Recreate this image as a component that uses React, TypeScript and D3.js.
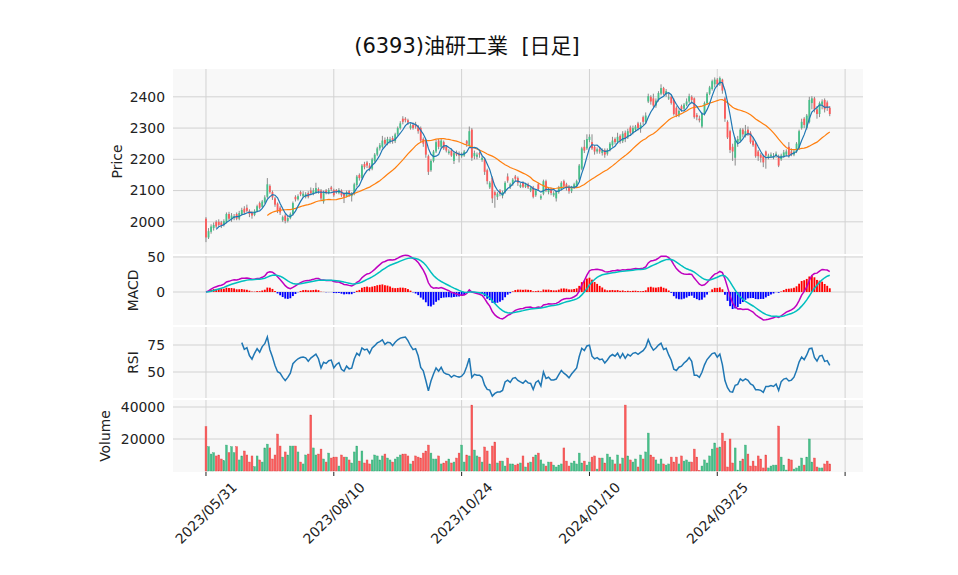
import * as d3 from "d3";

const W = 958;
const H = 575;
const LEFT = 173;
const RIGHT = 863;

const TITLE = "(6393)油研工業  [日足]";

// daily candles (yen)
const opens = [
  2010, 1950, 1968, 1980, 2000, 2000, 1998, 1990, 2000, 2025, 2008, 2012, 2025, 2010, 2025, 2042, 2045, 2035, 2030, 2022,
  2035, 2060, 2048, 2062, 2080, 2115, 2095, 2075, 2058, 2045, 2005, 2020, 2003, 2012, 2025, 2080, 2072, 2095, 2082, 2080,
  2092, 2100, 2090, 2095, 2105, 2100, 2065, 2100, 2092, 2110, 2102, 2102, 2092, 2100, 2090, 2082, 2098, 2082, 2090, 2118,
  2150, 2140, 2185, 2190, 2180, 2170, 2195, 2215, 2235, 2240, 2262, 2250, 2258, 2268, 2258, 2280, 2300, 2330, 2330, 2325,
  2300, 2310, 2312, 2305, 2300, 2265, 2260, 2210, 2165, 2195, 2225, 2260, 2240, 2255, 2240, 2220, 2228, 2195, 2222, 2218,
  2210, 2212, 2258, 2245, 2295, 2210, 2208, 2220, 2198, 2200, 2165, 2110, 2140, 2095, 2080, 2100, 2083, 2095, 2145, 2112,
  2120, 2145, 2140, 2112, 2125, 2112, 2120, 2100, 2110, 2085, 2120, 2075, 2090, 2130, 2095, 2105, 2085, 2075, 2095, 2105,
  2130, 2120, 2112, 2098, 2110, 2115, 2135, 2170, 2240, 2235, 2262, 2255, 2240, 2225, 2232, 2220, 2230, 2218, 2230, 2245,
  2265, 2255, 2275, 2258, 2285, 2270, 2302, 2285, 2295, 2315, 2298, 2335, 2320, 2385, 2400, 2395, 2372, 2390, 2410, 2428,
  2408, 2395, 2400, 2390, 2365, 2340, 2370, 2362, 2375, 2385, 2400, 2395, 2342, 2330, 2305, 2345, 2380, 2410, 2425, 2440,
  2455, 2440, 2455, 2395, 2320, 2290, 2240, 2205, 2255, 2260, 2295, 2275, 2295, 2285, 2260, 2250, 2225, 2215, 2210, 2225,
  2205, 2210, 2205, 2210, 2210, 2200, 2210, 2215, 2240, 2225, 2215, 2225, 2235, 2300, 2330, 2300, 2320, 2380, 2395, 2360,
  2345, 2375, 2390, 2382, 2365,
];
const highs = [
  2015, 1980, 1992, 1998, 2005, 2008, 2003, 2008, 2030, 2032, 2028, 2025, 2030, 2035, 2045, 2050, 2055, 2040, 2035, 2040,
  2055, 2065, 2070, 2085, 2140, 2120, 2100, 2080, 2062, 2050, 2020, 2025, 2020, 2030, 2065, 2085, 2088, 2100, 2098, 2095,
  2098, 2110, 2108, 2125, 2110, 2105, 2100, 2105, 2108, 2115, 2106, 2105, 2108, 2104, 2095, 2100, 2102, 2095, 2125, 2150,
  2155, 2185, 2192, 2195, 2188, 2205, 2220, 2240, 2252, 2275, 2270, 2272, 2272, 2275, 2285, 2305, 2322, 2338, 2335, 2330,
  2315, 2318, 2320, 2310, 2305, 2270, 2265, 2215, 2200, 2230, 2262, 2265, 2265, 2260, 2245, 2232, 2235, 2225, 2228, 2225,
  2222, 2230, 2262, 2305, 2300, 2228, 2222, 2225, 2212, 2205, 2170, 2130, 2145, 2100, 2095, 2105, 2100, 2130, 2155, 2125,
  2140, 2150, 2145, 2124, 2130, 2125, 2125, 2112, 2115, 2105, 2125, 2088, 2135, 2135, 2110, 2110, 2098, 2100, 2115, 2130,
  2135, 2125, 2118, 2115, 2125, 2135, 2185, 2240, 2262, 2280, 2280, 2280, 2245, 2238, 2238, 2235, 2235, 2235, 2255, 2272,
  2270, 2285, 2280, 2290, 2292, 2298, 2308, 2308, 2310, 2320, 2318, 2340, 2350, 2410, 2405, 2410, 2395, 2418, 2440, 2432,
  2425, 2412, 2405, 2395, 2370, 2360, 2375, 2380, 2395, 2410, 2405, 2398, 2348, 2340, 2350, 2385, 2415, 2435, 2455, 2462,
  2460, 2465, 2458, 2400, 2325, 2295, 2250, 2270, 2275, 2300, 2300, 2310, 2305, 2290, 2270, 2255, 2230, 2220, 2215, 2228,
  2218, 2222, 2220, 2225, 2215, 2218, 2230, 2232, 2255, 2235, 2232, 2255, 2295, 2330, 2335, 2345, 2400, 2402, 2400, 2370,
  2385, 2392, 2395, 2388, 2370,
];
const lows = [
  1935, 1945, 1962, 1972, 1980, 1985, 1980, 1985, 1995, 2005, 2000, 2005, 2005, 2005, 2020, 2025, 2030, 2015, 2010, 2018,
  2030, 2040, 2045, 2058, 2075, 2090, 2070, 2048, 2028, 2022, 2000, 1995, 1998, 2008, 2020, 2065, 2068, 2082, 2078, 2075,
  2075, 2085, 2085, 2090, 2090, 2068, 2058, 2088, 2088, 2098, 2080, 2090, 2088, 2080, 2060, 2078, 2080, 2065, 2085, 2112,
  2132, 2135, 2168, 2172, 2162, 2165, 2190, 2210, 2228, 2235, 2245, 2245, 2250, 2250, 2252, 2275, 2295, 2312, 2318, 2310,
  2295, 2295, 2298, 2282, 2255, 2240, 2205, 2150, 2160, 2190, 2220, 2232, 2235, 2230, 2222, 2215, 2208, 2185, 2210, 2190,
  2205, 2208, 2240, 2240, 2195, 2200, 2200, 2205, 2192, 2150, 2120, 2105, 2060, 2045, 2070, 2082, 2075, 2090, 2125, 2105,
  2115, 2130, 2115, 2108, 2108, 2108, 2105, 2095, 2075, 2080, 2100, 2070, 2085, 2095, 2088, 2085, 2080, 2065, 2090, 2100,
  2110, 2100, 2090, 2092, 2105, 2110, 2130, 2165, 2220, 2230, 2255, 2230, 2215, 2218, 2218, 2212, 2205, 2212, 2225, 2240,
  2248, 2250, 2250, 2252, 2255, 2265, 2275, 2280, 2288, 2292, 2285, 2310, 2315, 2380, 2375, 2365, 2365, 2385, 2405, 2405,
  2400, 2390, 2375, 2340, 2335, 2335, 2352, 2358, 2370, 2380, 2380, 2330, 2325, 2318, 2300, 2340, 2375, 2405, 2420, 2430,
  2432, 2435, 2410, 2320, 2265, 2220, 2195, 2180, 2240, 2255, 2270, 2270, 2275, 2250, 2240, 2205, 2195, 2190, 2175, 2170,
  2200, 2205, 2200, 2205, 2175, 2195, 2205, 2210, 2205, 2210, 2210, 2220, 2230, 2295, 2300, 2295, 2315, 2360, 2350, 2330,
  2335, 2360, 2350, 2355, 2338,
];
const closes = [
  1950, 1970, 1985, 1990, 1985, 1990, 1988, 2002, 2025, 2010, 2020, 2018, 2010, 2028, 2038, 2030, 2035, 2025, 2020, 2035,
  2050, 2045, 2065, 2078, 2120, 2095, 2078, 2055, 2035, 2030, 2015, 2003, 2012, 2025, 2060, 2072, 2082, 2088, 2090, 2088,
  2080, 2092, 2100, 2108, 2098, 2075, 2095, 2092, 2102, 2104, 2085, 2096, 2102, 2085, 2080, 2095, 2088, 2090, 2120, 2145,
  2140, 2180, 2175, 2180, 2170, 2200, 2215, 2235, 2245, 2260, 2250, 2265, 2264, 2258, 2280, 2300, 2315, 2320, 2325, 2318,
  2308, 2300, 2305, 2290, 2260, 2250, 2215, 2160, 2195, 2225, 2255, 2240, 2260, 2235, 2228, 2225, 2212, 2220, 2215, 2212,
  2215, 2225, 2250, 2290, 2205, 2220, 2215, 2215, 2205, 2160, 2130, 2125, 2075, 2085, 2090, 2090, 2095, 2125, 2132, 2120,
  2135, 2138, 2125, 2118, 2112, 2120, 2110, 2108, 2080, 2100, 2105, 2082, 2130, 2100, 2105, 2092, 2092, 2095, 2110, 2125,
  2115, 2108, 2098, 2110, 2120, 2130, 2180, 2235, 2228, 2265, 2272, 2235, 2225, 2232, 2225, 2228, 2215, 2230, 2250, 2260,
  2255, 2272, 2258, 2282, 2268, 2290, 2285, 2300, 2305, 2300, 2310, 2320, 2340, 2402, 2385, 2372, 2388, 2412, 2428, 2410,
  2418, 2398, 2380, 2345, 2340, 2355, 2360, 2375, 2385, 2402, 2390, 2335, 2335, 2325, 2345, 2380, 2410, 2430, 2450, 2455,
  2440, 2460, 2420, 2330, 2270, 2230, 2225, 2260, 2265, 2295, 2280, 2290, 2280, 2255, 2245, 2210, 2210, 2205, 2190, 2212,
  2212, 2215, 2210, 2218, 2180, 2212, 2222, 2225, 2212, 2215, 2225, 2250, 2290, 2320, 2310, 2340, 2390, 2395, 2360, 2345,
  2380, 2385, 2360, 2365, 2345,
];
const volumes = [
  27700, 15200, 10600, 11400, 9400, 10000, 7500, 6400, 16200, 11400, 15200, 11400, 15200, 6900, 9400, 12500, 10000, 5600, 9400, 2700,
  9400, 6900, 5600, 14400, 16800, 14400, 7500, 10000, 23100, 15600, 8700, 11900, 10000, 15600, 15600, 15600, 11900, 5600, 4400, 10000,
  10600, 35000, 14400, 10000, 10600, 13700, 7500, 5600, 11200, 8100, 8700, 8700, 3100, 10000, 8700, 8700, 6900, 5000, 11900, 15600,
  6200, 12500, 5000, 6900, 4400, 6900, 10000, 9400, 6900, 9400, 10600, 8100, 6900, 5600, 7500, 8700, 10000, 10600, 10600, 9400,
  4400, 6200, 9400, 8700, 8100, 11200, 12500, 16200, 11200, 7500, 7500, 9400, 4400, 5000, 6200, 7500, 5000, 5600, 8100, 11200,
  16200, 5600, 10000, 9400, 41200, 13100, 9400, 8700, 5600, 15000, 12500, 4400, 15600, 18100, 5000, 6200, 6200, 3100, 8100, 4400,
  4400, 3700, 4400, 5000, 9400, 2500, 5000, 5600, 8700, 10000, 11200, 6900, 4400, 3100, 5600, 5600, 3700, 2500, 3700, 4400,
  14400, 6200, 3100, 5000, 6200, 4400, 11200, 5000, 6200, 3700, 5600, 8700, 9400, 1200, 8100, 8100, 5000, 10600, 8700, 6900,
  4400, 10000, 4400, 8100, 41200, 9400, 6900, 5600, 7500, 2500, 10000, 7500, 11900, 23700, 10000, 8700, 6900, 4400, 7500, 4400,
  3700, 4400, 8700, 5600, 8700, 4400, 9400, 6200, 6900, 5600, 5600, 13700, 8700, 300, 3100, 6900, 5000, 9400, 13700, 17500,
  14400, 15000, 23700, 18700, 2500, 20000, 5000, 14400, 600, 6200, 7500, 16200, 10600, 3100, 6200, 3100, 9400, 7500, 1900, 10000,
  1900, 3100, 3700, 3700, 28100, 8700, 3700, 600, 7500, 6900, 1200, 1900, 3100, 8100, 3700, 8700, 20000, 5600, 8100, 2500,
  1900, 1900, 4400, 6200, 4400,
];

const dateTicks = [0, 50, 100, 150, 200, 250];
const dateLabels = ["2023/05/31", "2023/08/10", "2023/10/24", "2024/01/10", "2024/03/25", ""];
const priceTicks = [2000, 2100, 2200, 2300, 2400];
const macdTicks = [0, 50];
const rsiTicks = [50, 75];
const volumeTicks = [20000, 40000];

const UP = "#47c08a";
const DOWN = "#fc5b5b";
const FONT = "'DejaVu Sans', 'Noto Sans CJK JP', sans-serif";

// indicators drawn on the chart: 5/25 day averages, MACD(12,26,9), RSI(14)
function sma(values: number[], n: number): (number | null)[] {
  return values.map((_, i) => (i < n - 1 ? null : d3.mean(values.slice(i - n + 1, i + 1)) as number));
}

function ema(values: number[], n: number): number[] {
  const k = 2 / (n + 1);
  const out: number[] = [];
  values.forEach((v, i) => out.push(i === 0 ? v : v * k + out[i - 1] * (1 - k)));
  return out;
}

// gains / losses averaged with a normalised exponential weight (com = n - 1)
function rsi(values: number[], n: number): (number | null)[] {
  const a = 1 / n;
  let gNum = 0;
  let lNum = 0;
  let den = 0;
  return values.map((v, i) => {
    if (i === 0) return null;
    const d = v - values[i - 1];
    gNum = gNum * (1 - a) + Math.max(d, 0);
    lNum = lNum * (1 - a) + Math.max(-d, 0);
    den = den * (1 - a) + 1;
    if (i < n) return null;
    const up = gNum / den;
    const down = lNum / den;
    return down === 0 ? 100 : 100 - 100 / (1 + up / down);
  });
}

const ma5 = sma(closes, 5);
const ma25 = sma(closes, 25);
const ema12 = ema(closes, 12);
const ema26 = ema(closes, 26);
const macd = ema12.map((v, i) => v - ema26[i]);
const signal = ema(macd, 9);
const hist = macd.map((v, i) => v - signal[i]);
const rsi14 = rsi(closes, 14);

const x = d3.scaleLinear().domain([-12.9, 257]).range([LEFT, RIGHT]);
const step = x(1) - x(0);

const panels = {
  price: { top: 69, bottom: 254, y: d3.scaleLinear().domain([1897, 2489]).range([254, 69]), ticks: priceTicks, label: "Price", labelX: 117 },
  macd: { top: 256, bottom: 325, y: d3.scaleLinear().domain([-47.1, 51.4]).range([325, 256]), ticks: macdTicks, label: "MACD", labelX: 133 },
  rsi: { top: 327, bottom: 398, y: d3.scaleLinear().domain([25.9, 91.7]).range([398, 327]), ticks: rsiTicks, label: "RSI", labelX: 133 },
  volume: { top: 400, bottom: 472, y: d3.scaleLinear().domain([-625, 44375]).range([472, 400]), ticks: volumeTicks, label: "Volume", labelX: 105 },
};

function path(values: (number | null)[], y: d3.ScaleLinear<number, number>) {
  return d3
    .line<number | null>()
    .defined((v) => v != null)
    .x((_, i) => x(i))
    .y((v) => y(v as number))(values) ?? "";
}

export default function App() {
  const yP = panels.price.y;
  const yM = panels.macd.y;
  const yR = panels.rsi.y;
  const yV = panels.volume.y;
  const bw = step * 0.72;

  return (
    <svg width={W} height={H} style={{ position: "absolute", left: 0, top: 0, background: "#fff" }} fontFamily={FONT}>
      <text x={467} y={53} textAnchor="middle" fontSize={21} fill="#111" style={{ whiteSpace: "pre" }}>
        {TITLE}
      </text>

      {Object.values(panels).map((p) => (
        <g key={p.label}>
          <rect x={LEFT} y={p.top} width={RIGHT - LEFT} height={p.bottom - p.top} fill="#f8f8f8" />
          {dateTicks.map((t) => (
            <line key={t} x1={x(t)} x2={x(t)} y1={p.top} y2={p.bottom} stroke="#d2d2d2" strokeWidth={1} />
          ))}
          {p.ticks.map((t) => (
            <g key={t}>
              <line x1={LEFT} x2={RIGHT} y1={p.y(t)} y2={p.y(t)} stroke="#d2d2d2" strokeWidth={1} />
              <text x={165} y={p.y(t)} dy="0.35em" textAnchor="end" fontSize={13.9} fill="#222">
                {t}
              </text>
            </g>
          ))}
          <text
            transform={`translate(${p.labelX},${(p.top + p.bottom) / 2}) rotate(-90)`}
            textAnchor="middle"
            dominantBaseline="central"
            fontSize={13.9}
            fill="#222"
          >
            {p.label}
          </text>
        </g>
      ))}

      {/* candles */}
      {closes.map((c, i) => {
        const o = opens[i];
        const up = c >= o;
        const top = yP(Math.max(o, c));
        const h = Math.max(1, Math.abs(yP(o) - yP(c)));
        return (
          <g key={i}>
            <line x1={x(i)} x2={x(i)} y1={yP(highs[i])} y2={yP(lows[i])} stroke="#8a8a8a" strokeWidth={1} />
            <rect x={x(i) - bw / 2} y={top} width={bw} height={h} fill={up ? UP : DOWN} />
          </g>
        );
      })}
      <path d={path(ma25, yP)} fill="none" stroke="#ff7f0e" strokeWidth={1.2} />
      <path d={path(ma5, yP)} fill="none" stroke="#1f77b4" strokeWidth={1.2} />

      {/* MACD */}
      {hist.map((v, i) => (
        <rect
          key={i}
          x={x(i) - bw / 2}
          y={Math.min(yM(0), yM(v))}
          width={bw}
          height={Math.abs(yM(v) - yM(0))}
          fill={v >= 0 ? "#ff0000" : "#0000ff"}
        />
      ))}
      <path d={path(macd, yM)} fill="none" stroke="#bf00bf" strokeWidth={1.5} />
      <path d={path(signal, yM)} fill="none" stroke="#00bfbf" strokeWidth={1.5} />

      {/* RSI */}
      <path d={path(rsi14, yR)} fill="none" stroke="#1f77b4" strokeWidth={1.5} />

      {/* volume */}
      {volumes.map((v, i) => {
        const up = closes[i] >= opens[i];
        return (
          <rect
            key={i}
            x={x(i) - bw / 2}
            y={yV(v)}
            width={bw}
            height={yV(0) - yV(v)}
            fill={up ? UP : DOWN}
            stroke={up ? "#3aa877" : "#e04848"}
            strokeWidth={0.4}
          />
        );
      })}

      {/* date axis */}
      {dateTicks.map((t, k) => (
        <g key={t}>
          <line x1={x(t)} x2={x(t)} y1={panels.volume.bottom} y2={panels.volume.bottom + 4} stroke="#222" strokeWidth={1} />
          <text
            transform={`translate(${x(t)},${513}) rotate(-45)`}
            textAnchor="middle"
            dominantBaseline="central"
            fontSize={13.9}
            fill="#222"
          >
            {dateLabels[k]}
          </text>
        </g>
      ))}
    </svg>
  );
}
